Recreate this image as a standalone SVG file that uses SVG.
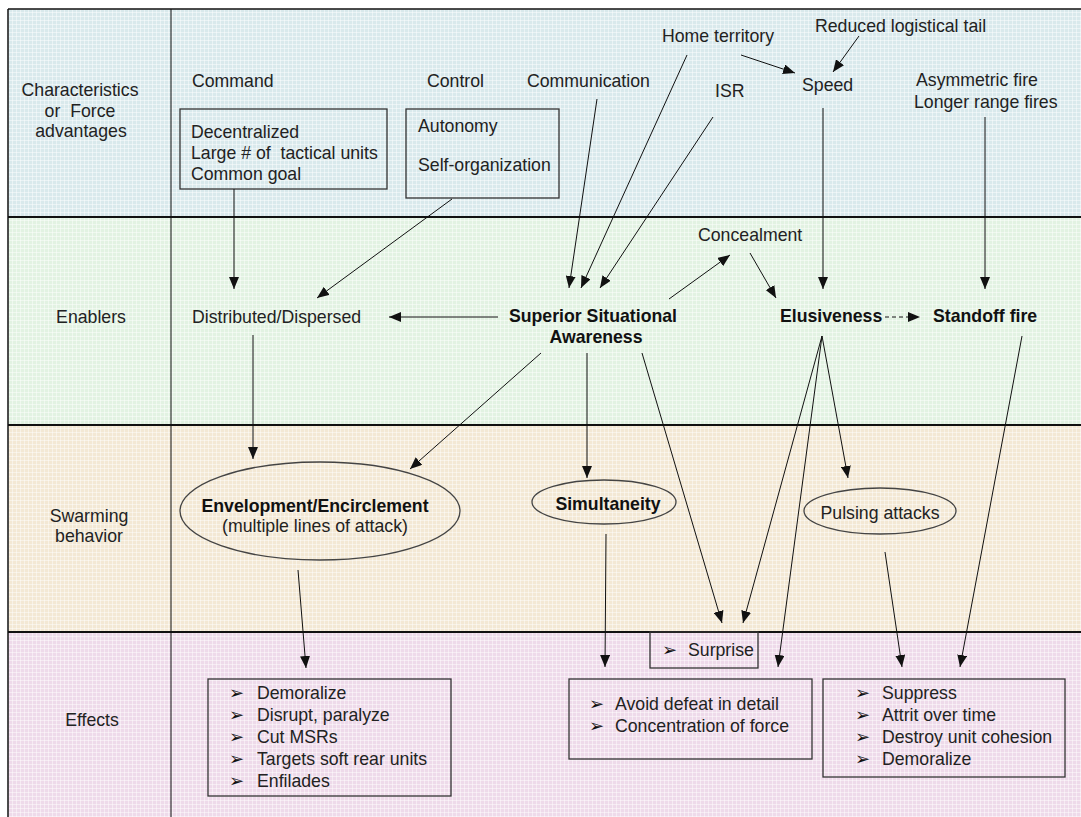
<svg xmlns="http://www.w3.org/2000/svg" width="1081" height="817" viewBox="0 0 1081 817">
<style>
text{font-family:"Liberation Sans",Arial,sans-serif;font-size:17.7px;fill:#222}
.b{font-weight:bold;fill:#111}
.m{text-anchor:middle}
.bul{font-family:"DejaVu Sans",sans-serif;font-size:18px;fill:#111}
.box{fill:none;stroke:#333;stroke-width:1.3}
.ell{fill:none;stroke:#444;stroke-width:1.3}
.c line{stroke:#111;stroke-width:1;marker-end:url(#ah)}
</style>
<defs>
<marker id="ah" markerUnits="userSpaceOnUse" markerWidth="12" markerHeight="10" viewBox="0 0 12 10" refX="12" refY="5" orient="auto">
<path d="M0,0 L12,5 L0,10 z" fill="#111"/>
</marker>
<pattern id="tex" width="4" height="4" patternUnits="userSpaceOnUse">
<rect x="0" y="0" width="4" height="1" fill="#fff" opacity="0.45"/>
<rect x="0" y="0" width="1" height="4" fill="#fff" opacity="0.45"/>
</pattern>
</defs>
<rect width="1081" height="817" fill="#fff"/>
<g id="rows">
<rect x="8" y="9" width="1073" height="208" fill="#d9e9ec"/>
<rect x="8" y="217" width="1073" height="208" fill="#e2f2e2"/>
<rect x="8" y="425" width="1073" height="207" fill="#f3e8d4"/>
<rect x="8" y="632" width="1073" height="185" fill="#eedaea"/>
<rect x="8" y="9" width="1073" height="808" fill="url(#tex)"/>
<line x1="8" y1="9" x2="1081" y2="9" stroke="#111" stroke-width="1.5"/>
<line x1="8" y1="9" x2="8" y2="817" stroke="#111" stroke-width="1.5"/>
<line x1="8" y1="217" x2="1081" y2="217" stroke="#111" stroke-width="2"/>
<line x1="8" y1="425" x2="1081" y2="425" stroke="#111" stroke-width="2"/>
<line x1="8" y1="632" x2="1081" y2="632" stroke="#111" stroke-width="2"/>
<line x1="171" y1="9" x2="171" y2="817" stroke="#111" stroke-width="1"/>
<text class="m" x="80" y="96">Characteristics</text>
<text class="m" x="80" y="117">or&#160; Force</text>
<text class="m" x="81" y="137">advantages</text>
<text class="m" x="91" y="323">Enablers</text>
<text class="m" x="89" y="522">Swarming</text>
<text class="m" x="89" y="542">behavior</text>
<text class="m" x="92" y="726">Effects</text>
</g>
<g id="command"><text x="192" y="87">Command</text>
<rect class="box" x="180" y="109" width="207" height="80"/>
<text x="191" y="138">Decentralized</text>
<text x="191" y="159">Large # of&#160; tactical units</text>
<text x="191" y="180">Common goal</text></g>
<g id="control"><text x="427" y="87">Control</text>
<rect class="box" x="406" y="109" width="153" height="89"/>
<text x="418" y="132">Autonomy</text>
<text x="418" y="171">Self-organization</text></g>
<g id="communication"><text x="527" y="87">Communication</text></g>
<g id="home"><text x="662" y="42">Home territory</text></g>
<g id="isr"><text x="715" y="97">ISR</text></g>
<g id="reduced"><text x="815" y="32">Reduced logistical tail</text></g>
<g id="speed"><text x="802" y="91">Speed</text></g>
<g id="fires"><text x="916" y="86">Asymmetric fire</text>
<text x="914" y="108">Longer range fires</text></g>
<g id="distributed"><text x="192" y="323">Distributed/Dispersed</text></g>
<g id="ssa"><text class="b m" x="593" y="322">Superior Situational</text>
<text class="b m" x="596" y="343">Awareness</text></g>
<g id="concealment"><text x="698" y="241">Concealment</text></g>
<g id="elusiveness"><text class="b" x="780" y="322">Elusiveness</text></g>
<g id="standoff"><text class="b" x="933" y="322">Standoff fire</text></g>
<g id="envelopment"><ellipse class="ell" cx="320" cy="511" rx="140" ry="49"/>
<text class="b m" x="315" y="512">Envelopment/Encirclement</text>
<text class="m" x="315" y="532">(multiple lines of attack)</text></g>
<g id="simultaneity"><ellipse class="ell" cx="604" cy="502" rx="72" ry="22"/>
<text class="b m" x="608" y="510">Simultaneity</text></g>
<g id="pulsing"><ellipse class="ell" cx="880" cy="511" rx="76" ry="23"/>
<text class="m" x="880" y="519">Pulsing attacks</text></g>
<g id="effects1"><rect class="box" x="208" y="679" width="243" height="117"/>
<text class="bul" x="229" y="699">➢</text><text x="257" y="699">Demoralize</text>
<text class="bul" x="229" y="721">➢</text><text x="257" y="721">Disrupt, paralyze</text>
<text class="bul" x="229" y="743">➢</text><text x="257" y="743">Cut MSRs</text>
<text class="bul" x="229" y="765">➢</text><text x="257" y="765">Targets soft rear units</text>
<text class="bul" x="229" y="787">➢</text><text x="257" y="787">Enfilades</text></g>
<g id="surprise"><rect class="box" x="650" y="632" width="108" height="36"/>
<text class="bul" x="662" y="656">➢</text><text x="688" y="656">Surprise</text></g>
<g id="effects2"><rect class="box" x="569" y="679" width="243" height="80"/>
<text class="bul" x="589" y="710">➢</text><text x="615" y="710">Avoid defeat in detail</text>
<text class="bul" x="589" y="732">➢</text><text x="615" y="732">Concentration of force</text></g>
<g id="effects3"><rect class="box" x="823" y="679" width="242" height="98"/>
<text class="bul" x="855" y="699">➢</text><text x="882" y="699">Suppress</text>
<text class="bul" x="855" y="721">➢</text><text x="882" y="721">Attrit over time</text>
<text class="bul" x="855" y="743">➢</text><text x="882" y="743">Destroy unit cohesion</text>
<text class="bul" x="855" y="765">➢</text><text x="882" y="765">Demoralize</text></g>
<g id="connectors" class="c">
<line x1="741" y1="55" x2="795" y2="73"/>
<line x1="859" y1="36" x2="833" y2="72"/>
<line x1="234" y1="189" x2="234" y2="289"/>
<line x1="452" y1="199" x2="317" y2="298"/>
<line x1="597" y1="99" x2="569" y2="288"/>
<line x1="687" y1="55" x2="581" y2="288"/>
<line x1="713" y1="117" x2="600" y2="288"/>
<line x1="823" y1="108" x2="823" y2="289"/>
<line x1="985" y1="117" x2="985" y2="289"/>
<line x1="498" y1="317" x2="389" y2="317"/>
<line x1="669" y1="299" x2="730" y2="255"/>
<line x1="750" y1="253" x2="776" y2="298"/>
<line x1="885" y1="317" x2="920" y2="317" stroke-dasharray="4,3"/>
<line x1="253" y1="335" x2="253" y2="459"/>
<line x1="541" y1="353" x2="410" y2="469"/>
<line x1="587" y1="353" x2="587" y2="478"/>
<line x1="642" y1="353" x2="722" y2="623"/>
<line x1="822" y1="336" x2="743" y2="623"/>
<line x1="822" y1="336" x2="778" y2="667"/>
<line x1="822" y1="336" x2="848" y2="478"/>
<line x1="1022" y1="336" x2="960" y2="667"/>
<line x1="298" y1="570" x2="306" y2="668"/>
<line x1="606" y1="534" x2="605" y2="667"/>
<line x1="885" y1="552" x2="902" y2="667"/>
</g>
</svg>
